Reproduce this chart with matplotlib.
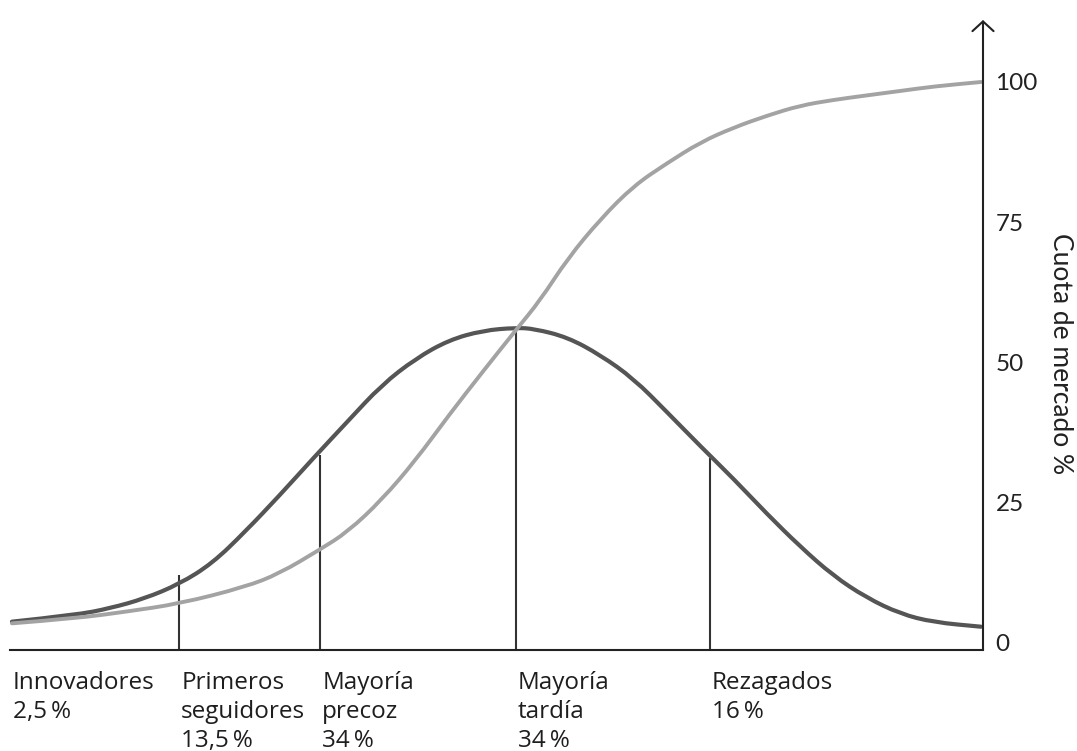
import numpy as np
import matplotlib
matplotlib.use('Agg')
import matplotlib.pyplot as plt
from matplotlib import transforms
from matplotlib.path import Path
from matplotlib.patches import PathPatch

# curva de adopcion (campana)
bell_x = [0.2, 6.8, 10.3, 13.8, 17.4, 20.8, 24.2, 27.7, 31.2, 34.7, 38.2, 41.7,
          45.1, 48.6, 52.0, 53.9, 57.3, 60.7, 64.1, 67.5, 71.0, 74.4, 77.8,
          81.2, 84.6, 88.0, 91.5, 94.9, 99.8]
bell_y = [3.8, 5.0, 6.2, 7.9, 10.5, 14.2, 19.9, 26.3, 33.0, 39.5, 46.0, 50.7,
          54.0, 55.7, 56.2, 56.0, 54.5, 51.3, 47.1, 41.2, 35.0, 29.2, 23.0,
          17.2, 12.0, 8.1, 5.2, 3.7, 2.9]

# cuota de mercado acumulada (curva S)
cum_x = [0.2, 6.8, 12.0, 17.4, 24.2, 27.7, 31.8, 34.7, 38.2, 41.7, 45.1, 48.6,
         52.0, 54.5, 57.3, 60.7, 64.1, 67.5, 71.0, 74.4, 77.8, 81.2, 84.6,
         88.0, 91.5, 94.9, 99.8]
cum_y = [3.5, 4.4, 5.6, 7.0, 10.0, 12.4, 16.6, 19.8, 25.5, 32.6, 40.6, 48.4,
         55.8, 61.1, 68.5, 75.6, 81.5, 85.5, 89.3, 91.9, 94.0, 95.8, 96.8,
         97.6, 98.4, 99.2, 100.0]

# lineas divisorias
div_x = [17.4, 31.9, 52.0, 71.9]
div_top = [12.1, 33.5, 56.1, 33.0]

labels = ['Innovadores\n2,5\u2009%', 'Primeros\nseguidores\n13,5\u2009%',
          'Mayoría\nprecoz\n34\u2009%', 'Mayoría\ntardía\n34\u2009%',
          'Rezagados\n16\u2009%']
label_x = [0.3, 17.6, 32.1, 52.2, 72.1]

yticks = [0, 25, 50, 75, 100]


def curva_suave(xs, ys):
    # bezier cuadratica usando los puntos leidos como control
    pts = list(zip(xs, ys))
    verts = [pts[0]]
    codes = [Path.MOVETO]
    for i in range(1, len(pts) - 1):
        mid = ((pts[i][0] + pts[i+1][0]) / 2, (pts[i][1] + pts[i+1][1]) / 2)
        verts += [pts[i], mid]
        codes += [Path.CURVE3, Path.CURVE3]
    verts.append(pts[-1])
    codes.append(Path.LINETO)
    return Path(verts, codes)


fig = plt.figure(figsize=(10.77, 7.51), dpi=100)
ax = fig.add_axes([10/1077, 101/751, 973/1077, 630/751])
ax.set_xlim(0, 100)
ax.set_ylim(-1.25, 111.05)

ax.vlines(div_x, -1.25, div_top, color='#333333', lw=1.5, zorder=1)
ax.add_patch(PathPatch(curva_suave(bell_x, bell_y), facecolor='none',
                       edgecolor='#555555', lw=3.0, capstyle='round', zorder=2))
ax.add_patch(PathPatch(curva_suave(cum_x, cum_y), facecolor='none',
                       edgecolor='#a3a3a3', lw=2.8, capstyle='round', zorder=3))

for s in ['left', 'top', 'right']:
    ax.spines[s].set_visible(False)
ax.spines['bottom'].set_color('#222222')
ax.spines['bottom'].set_linewidth(1.5)

# eje derecho con flecha
ax.annotate('', xy=(1, 1.0), xytext=(1, 0), xycoords='axes fraction',
            arrowprops=dict(arrowstyle='->,head_length=0.35,head_width=0.38',
                            lw=1.5, color='#222222', mutation_scale=20,
                            shrinkA=0, shrinkB=0),
            annotation_clip=False)

ax.set_xticks([])
ax.yaxis.tick_right()
ax.set_yticks(yticks)
ax.set_yticklabels([str(t) for t in yticks], fontsize=17.5, family='Lato',
                   color='#222222')
ax.tick_params(axis='y', length=0, pad=9)

ax.set_ylabel('Cuota de mercado %', fontsize=19, family='Lato',
              color='#222222', rotation=270, va='center')
ax.yaxis.set_label_position('right')
ax.yaxis.set_label_coords(1.092, 0.47)

trans = transforms.blended_transform_factory(ax.transData, ax.transAxes)
for lx, lab in zip(label_x, labels):
    ax.text(lx, -0.033, lab, transform=trans, ha='left', va='top',
            fontsize=17.5, family=['Open Sans', 'DejaVu Sans'], color='#1e1e1e',
            linespacing=1.27)

fig.savefig('out.png', dpi=100)
